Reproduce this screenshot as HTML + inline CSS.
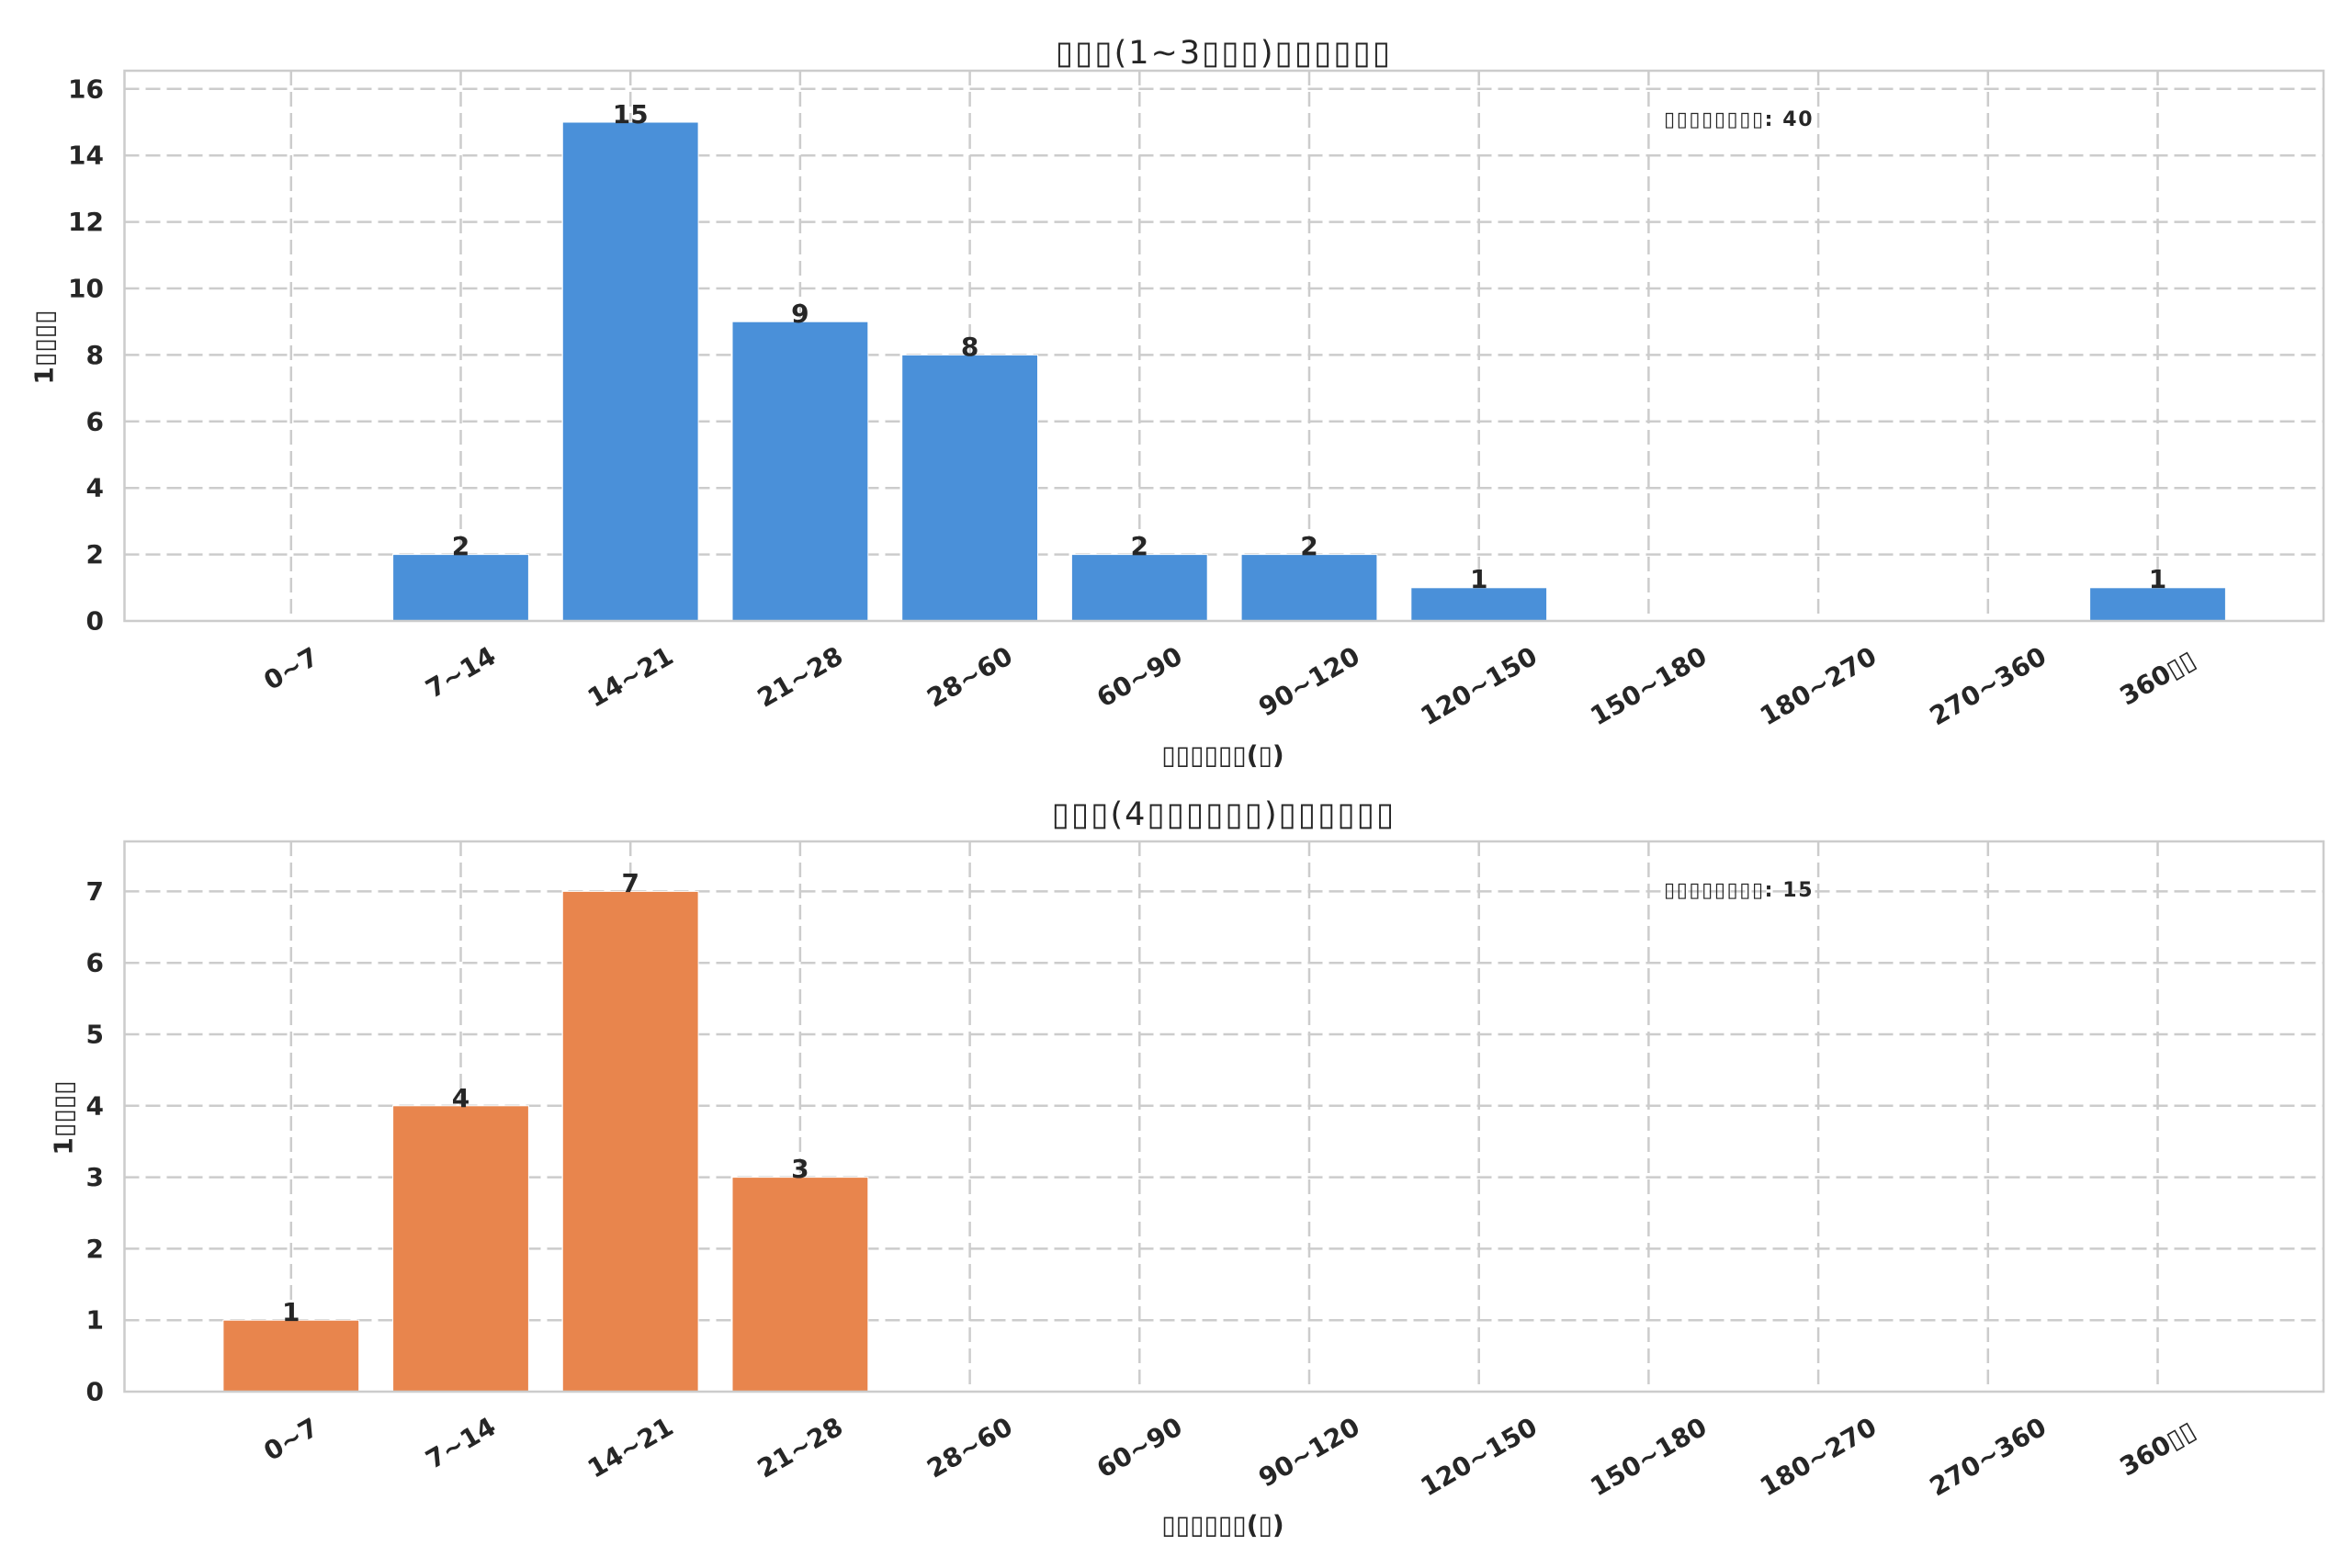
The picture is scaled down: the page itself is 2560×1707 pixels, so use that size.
<!DOCTYPE html>
<html><head><meta charset="utf-8"><style>
html,body{margin:0;padding:0;background:#fff}
svg{display:block}
text{font-family:"DejaVu Sans","Liberation Sans",sans-serif;fill:#262626}
.b{font-weight:bold}
.g{stroke:#cccccc;stroke-width:2.5;stroke-dasharray:16,7;fill:none}
.sp{stroke:#cccccc;stroke-width:2.5;fill:none}
.yt{font-size:28px;font-weight:bold;text-anchor:end;dominant-baseline:central}
.xt{font-size:28px;font-weight:bold;text-anchor:middle;dominant-baseline:central}
.v{font-size:28px;font-weight:bold;text-anchor:middle}
.t{font-size:35px;text-anchor:middle;letter-spacing:2px}
.xl{font-size:28px;font-weight:bold;text-anchor:middle;dominant-baseline:central}
.an{font-size:22px;font-weight:bold;letter-spacing:1.6px}
</style></head><body>
<svg width="2560" height="1707" viewBox="0 0 2560 1707" xmlns="http://www.w3.org/2000/svg">
<rect width="2560" height="1707" fill="#fff"/>

<!-- ===== TOP CHART ===== -->
<g class="g">
<line x1="135.5" x2="2529" y1="603.6" y2="603.6"/><line x1="135.5" x2="2529" y1="531.2" y2="531.2"/>
<line x1="135.5" x2="2529" y1="458.8" y2="458.8"/><line x1="135.5" x2="2529" y1="386.4" y2="386.4"/>
<line x1="135.5" x2="2529" y1="314" y2="314"/><line x1="135.5" x2="2529" y1="241.6" y2="241.6"/>
<line x1="135.5" x2="2529" y1="169.2" y2="169.2"/><line x1="135.5" x2="2529" y1="96.8" y2="96.8"/>
<line y1="77" y2="676" x1="316.8" x2="316.8"/><line y1="77" y2="676" x1="501.5" x2="501.5"/>
<line y1="77" y2="676" x1="686.2" x2="686.2"/><line y1="77" y2="676" x1="870.9" x2="870.9"/>
<line y1="77" y2="676" x1="1055.6" x2="1055.6"/><line y1="77" y2="676" x1="1240.3" x2="1240.3"/>
<line y1="77" y2="676" x1="1425" x2="1425"/><line y1="77" y2="676" x1="1609.7" x2="1609.7"/>
<line y1="77" y2="676" x1="1794.4" x2="1794.4"/><line y1="77" y2="676" x1="1979.1" x2="1979.1"/>
<line y1="77" y2="676" x1="2163.8" x2="2163.8"/><line y1="77" y2="676" x1="2348.5" x2="2348.5"/>
</g>
<g fill="#4a90d9" stroke="#fff" stroke-width="1">
<rect x="427.6" y="603.6" width="147.8" height="72.4"/>
<rect x="612.3" y="133" width="147.8" height="543"/>
<rect x="797" y="350.2" width="147.8" height="325.8"/>
<rect x="981.7" y="386.4" width="147.8" height="289.6"/>
<rect x="1166.4" y="603.6" width="147.8" height="72.4"/>
<rect x="1351.1" y="603.6" width="147.8" height="72.4"/>
<rect x="1535.8" y="639.8" width="147.8" height="36.2"/>
<rect x="2274.6" y="639.8" width="147.8" height="36.2"/>
</g>
<rect class="sp" x="135.5" y="77" width="2393.5" height="599"/>
<g class="v">
<text x="501.5" y="604">2</text><text x="686.2" y="134">15</text><text x="870.9" y="351">9</text>
<text x="1055.6" y="387">8</text><text x="1240.3" y="604">2</text><text x="1425" y="604">2</text>
<text x="1609.7" y="640">1</text><text x="2348.5" y="640">1</text>
</g>
<g class="yt">
<text x="113" y="676">0</text><text x="113" y="603.6">2</text><text x="113" y="531.2">4</text>
<text x="113" y="458.8">6</text><text x="113" y="386.4">8</text><text x="113" y="314">10</text>
<text x="113" y="241.6">12</text><text x="113" y="169.2">14</text><text x="113" y="96.8">16</text>
</g>
<g class="xt">
<text x="316.8" y="728" transform="rotate(-30 316.8 728)">0~7</text>
<text x="501.5" y="732" transform="rotate(-30 501.5 732)">7~14</text>
<text x="686.2" y="737" transform="rotate(-30 686.2 737)">14~21</text>
<text x="870.9" y="737" transform="rotate(-30 870.9 737)">21~28</text>
<text x="1055.6" y="737" transform="rotate(-30 1055.6 737)">28~60</text>
<text x="1240.3" y="737" transform="rotate(-30 1240.3 737)">60~90</text>
<text x="1425" y="742" transform="rotate(-30 1425 742)">90~120</text>
<text x="1609.7" y="747" transform="rotate(-30 1609.7 747)">120~150</text>
<text x="1794.4" y="747" transform="rotate(-30 1794.4 747)">150~180</text>
<text x="1979.1" y="747" transform="rotate(-30 1979.1 747)">180~270</text>
<text x="2163.8" y="747" transform="rotate(-30 2163.8 747)">270~360</text>
<text x="2348.5" y="738" transform="rotate(-30 2348.5 738)">360▯▯</text>
</g>
<text class="t" x="1332" y="69">▯▯▯(1~3▯▯▯)▯▯▯▯▯▯</text>
<text class="xl" x="1331" y="822">▯▯▯▯▯▯(▯)</text>
<text class="xl" x="48" y="378" transform="rotate(-90 48 378)">1▯▯▯▯</text>
<text class="an" x="1811" y="137">▯▯▯▯▯▯▯▯: 40</text>

<!-- ===== BOTTOM CHART ===== -->
<g class="g">
<line x1="135.5" x2="2529" y1="1437.2" y2="1437.2"/><line x1="135.5" x2="2529" y1="1359.4" y2="1359.4"/>
<line x1="135.5" x2="2529" y1="1281.6" y2="1281.6"/><line x1="135.5" x2="2529" y1="1203.8" y2="1203.8"/>
<line x1="135.5" x2="2529" y1="1126" y2="1126"/><line x1="135.5" x2="2529" y1="1048.2" y2="1048.2"/>
<line x1="135.5" x2="2529" y1="970.4" y2="970.4"/>
<line y1="916" y2="1515" x1="316.8" x2="316.8"/><line y1="916" y2="1515" x1="501.5" x2="501.5"/>
<line y1="916" y2="1515" x1="686.2" x2="686.2"/><line y1="916" y2="1515" x1="870.9" x2="870.9"/>
<line y1="916" y2="1515" x1="1055.6" x2="1055.6"/><line y1="916" y2="1515" x1="1240.3" x2="1240.3"/>
<line y1="916" y2="1515" x1="1425" x2="1425"/><line y1="916" y2="1515" x1="1609.7" x2="1609.7"/>
<line y1="916" y2="1515" x1="1794.4" x2="1794.4"/><line y1="916" y2="1515" x1="1979.1" x2="1979.1"/>
<line y1="916" y2="1515" x1="2163.8" x2="2163.8"/><line y1="916" y2="1515" x1="2348.5" x2="2348.5"/>
</g>
<g fill="#e8854d" stroke="#fff" stroke-width="1">
<rect x="242.9" y="1437.2" width="147.8" height="77.8"/>
<rect x="427.6" y="1203.8" width="147.8" height="311.2"/>
<rect x="612.3" y="970.4" width="147.8" height="544.6"/>
<rect x="797" y="1281.6" width="147.8" height="233.4"/>
</g>
<rect class="sp" x="135.5" y="916" width="2393.5" height="599"/>
<g class="v">
<text x="316.8" y="1438">1</text><text x="501.5" y="1205">4</text>
<text x="686.2" y="971">7</text><text x="870.9" y="1282">3</text>
</g>
<g class="yt">
<text x="113" y="1515">0</text><text x="113" y="1437.2">1</text><text x="113" y="1359.4">2</text>
<text x="113" y="1281.6">3</text><text x="113" y="1203.8">4</text><text x="113" y="1126">5</text>
<text x="113" y="1048.2">6</text><text x="113" y="970.4">7</text>
</g>
<g class="xt">
<text x="316.8" y="1567" transform="rotate(-30 316.8 1567)">0~7</text>
<text x="501.5" y="1571" transform="rotate(-30 501.5 1571)">7~14</text>
<text x="686.2" y="1576" transform="rotate(-30 686.2 1576)">14~21</text>
<text x="870.9" y="1576" transform="rotate(-30 870.9 1576)">21~28</text>
<text x="1055.6" y="1576" transform="rotate(-30 1055.6 1576)">28~60</text>
<text x="1240.3" y="1576" transform="rotate(-30 1240.3 1576)">60~90</text>
<text x="1425" y="1581" transform="rotate(-30 1425 1581)">90~120</text>
<text x="1609.7" y="1586" transform="rotate(-30 1609.7 1586)">120~150</text>
<text x="1794.4" y="1586" transform="rotate(-30 1794.4 1586)">150~180</text>
<text x="1979.1" y="1586" transform="rotate(-30 1979.1 1586)">180~270</text>
<text x="2163.8" y="1586" transform="rotate(-30 2163.8 1586)">270~360</text>
<text x="2348.5" y="1577" transform="rotate(-30 2348.5 1577)">360▯▯</text>
</g>
<text class="t" x="1332" y="898">▯▯▯(4▯▯▯▯▯▯)▯▯▯▯▯▯</text>
<text class="xl" x="1331" y="1660">▯▯▯▯▯▯(▯)</text>
<text class="xl" x="69" y="1217" transform="rotate(-90 69 1217)">1▯▯▯▯</text>
<text class="an" x="1811" y="976">▯▯▯▯▯▯▯▯: 15</text>
</svg>
</body></html>
